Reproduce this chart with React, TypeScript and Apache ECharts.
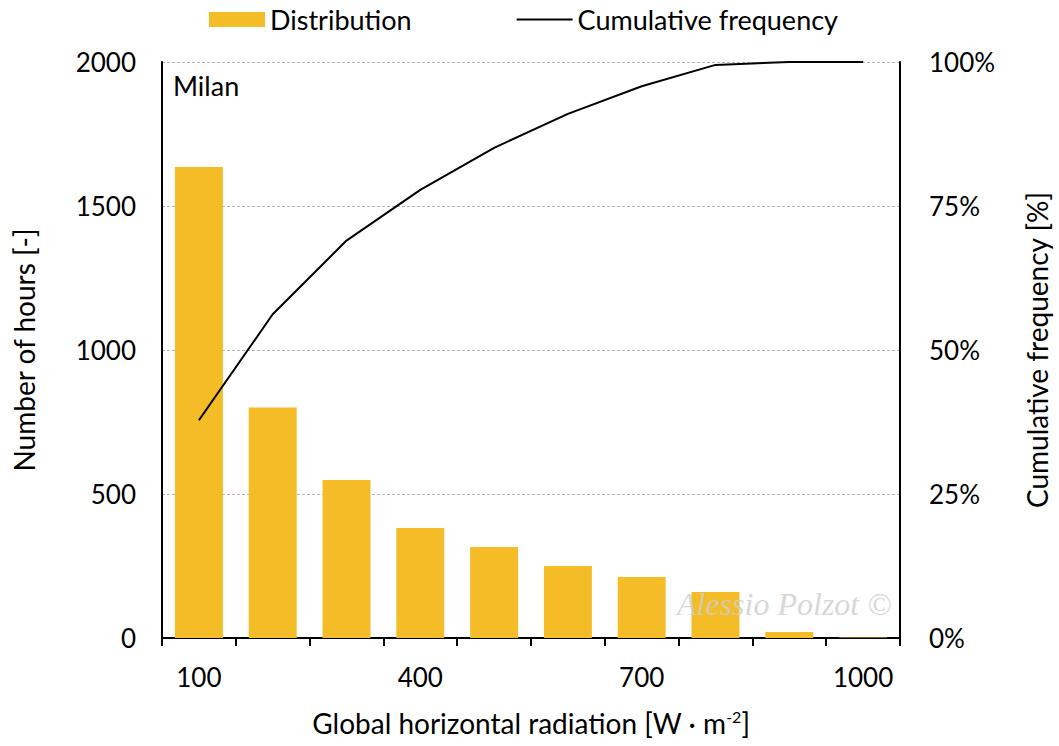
import React, { useEffect, useRef } from "react";
import * as echarts from "echarts";

// Hourly global horizontal radiation classes (W/m²)
const categories = ["100", "200", "300", "400", "500", "600", "700", "800", "900", "1000"];
// Number of hours falling in each class
const hours = [1635, 800, 549, 382, 316, 250, 212, 160, 21, 2];
// Cumulative share of hours (0–1)
const cumulative = [0.378, 0.562, 0.69, 0.778, 0.851, 0.91, 0.958, 0.995, 1.0, 1.0];
const leftTicks = [0, 500, 1000, 1500, 2000];
const rightTicks = [0, 0.25, 0.5, 0.75, 1];

const FONT = "Lato";
const BAR_COLOR = "#F4BC27";
const TICK_SIZE = 26;
const TITLE_SIZE = 28;

export default function App() {
  const ref = useRef<HTMLDivElement>(null);

  useEffect(() => {
    if (!ref.current) return;
    const chart = echarts.init(ref.current, undefined, { renderer: "svg" });
    const axisLine = { show: true, lineStyle: { color: "#000", width: 2 } };
    chart.setOption({
      animation: false,
      textStyle: { fontFamily: FONT, color: "#000" },
      legend: {
        left: 204,
        top: 1,
        itemGap: 105,
        itemWidth: 56,
        itemHeight: 15,
        textStyle: { fontFamily: FONT, fontSize: 27, color: "#000" },
        data: [
          { name: "Distribution", icon: "rect" },
          { name: "Cumulative frequency", icon: "path://M0,0 L56,0 L56,2 L0,2 Z" },
        ],
      },
      grid: { left: 162, right: 159, top: 62, bottom: 108 },
      xAxis: {
        type: "category",
        data: categories,
        axisLine,
        axisTick: {
          show: true,
          interval: 0,
          alignWithLabel: false,
          length: 8,
          lineStyle: { color: "#000", width: 2 },
        },
        axisLabel: { interval: 2, margin: 26, fontSize: TICK_SIZE, color: "#000", fontFamily: FONT },
        name: "Global horizontal radiation [W · m{sup|-2}]",
        nameLocation: "middle",
        nameGap: 70,
        nameTextStyle: {
          fontSize: TITLE_SIZE,
          color: "#000",
          fontFamily: FONT,
          rich: { sup: { fontSize: 16, verticalAlign: "top", padding: [0, 0, 14, 0], fontFamily: FONT } },
        },
        splitLine: { show: false },
      },
      yAxis: [
        {
          type: "value",
          min: leftTicks[0],
          max: leftTicks[leftTicks.length - 1],
          interval: leftTicks[1] - leftTicks[0],
          axisLine,
          axisTick: { show: false },
          axisLabel: {
            margin: 26,
            fontSize: TICK_SIZE,
            color: "#000",
            fontFamily: FONT,
            formatter: (v: number) => String(v),
          },
          splitLine: { show: true, lineStyle: { color: "#b5b5b5", type: [3, 2], width: 1 } },
          name: "Number of hours [-]",
          nameLocation: "middle",
          nameGap: 124,
          nameTextStyle: { fontSize: TITLE_SIZE, color: "#000", fontFamily: FONT },
        },
        {
          type: "value",
          min: rightTicks[0],
          max: rightTicks[rightTicks.length - 1],
          interval: rightTicks[1] - rightTicks[0],
          position: "right",
          axisLine,
          axisTick: { show: false },
          axisLabel: {
            margin: 29,
            fontSize: TICK_SIZE,
            color: "#000",
            fontFamily: FONT,
            formatter: (v: number) => `${Math.round(v * 100)}%`,
          },
          splitLine: { show: false },
          name: "Cumulative frequency [%]",
          nameLocation: "middle",
          nameGap: 123,
          nameRotate: 90,
          nameTextStyle: { fontSize: TITLE_SIZE, color: "#000", fontFamily: FONT },
        },
      ],
      series: [
        {
          name: "Distribution",
          type: "bar",
          data: hours,
          barCategoryGap: "35%",
          itemStyle: { color: BAR_COLOR },
          z: 2,
        },
        {
          name: "Cumulative frequency",
          type: "line",
          yAxisIndex: 1,
          data: cumulative,
          symbol: "none",
          lineStyle: { color: "#000", width: 2 },
          itemStyle: { color: "#000" },
          z: 3,
        },
      ],
      graphic: [
        {
          type: "text",
          left: 173,
          top: 72,
          style: { text: "Milan", fontSize: 27, fontFamily: FONT, fill: "#000" },
        },
        {
          type: "text",
          left: 677,
          top: 588,
          z: 10,
          style: {
            text: "Alessio Polzot ©",
            fontSize: 32,
            fontStyle: "italic",
            fontFamily: "Liberation Serif",
            fill: "rgba(205,205,205,0.8)",
          },
        },
      ],
    });
    return () => chart.dispose();
  }, []);

  return (
    <div
      ref={ref}
      style={{ position: "absolute", left: 0, top: 0, width: 1059, height: 746 }}
    />
  );
}
